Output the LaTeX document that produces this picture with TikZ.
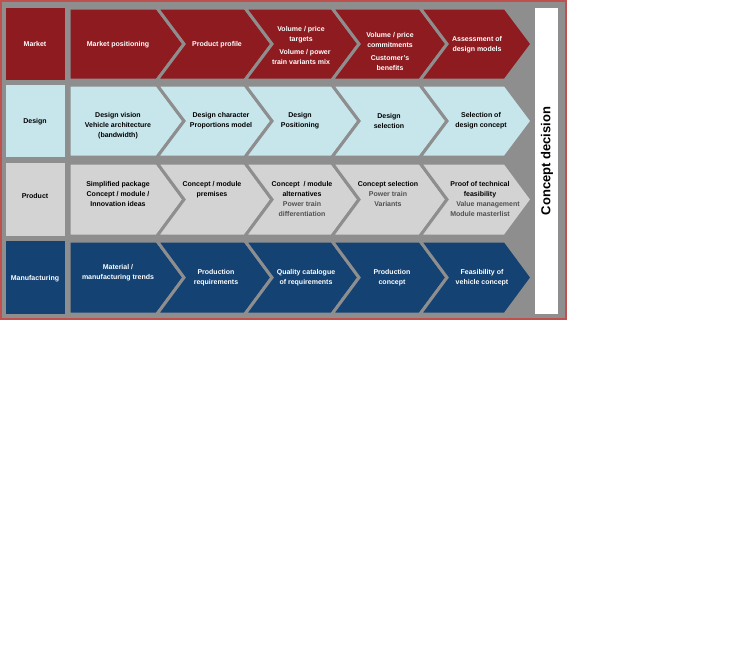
\documentclass[tikz,border=0pt]{standalone}
\usepackage{fontspec}
\setmainfont{Liberation Sans}
\begin{document}
\begin{tikzpicture}[x=1pt,y=-1pt,
 txt/.style={font=\bfseries\fontsize{7}{10}\selectfont,align=center,inner sep=0},
 lab/.style={txt},
 chev/.style={draw=gray!85!black!90,line width=3pt,line join=miter}]
\definecolor{mk}{HTML}{8E1B20}
\definecolor{ds}{HTML}{C6E6EC}
\definecolor{pr}{HTML}{D3D3D3}
\definecolor{mf}{HTML}{134273}
\definecolor{bg}{HTML}{8E8E8E}
\definecolor{fr}{HTML}{C0504D}
\definecolor{sub}{HTML}{505050}
\useasboundingbox (0,0) rectangle (730,664);
\fill[bg,draw=fr,line width=1.5pt] (1,1) rectangle (566,319);
\fill[white] (535,8) rectangle (558,314);
\node[rotate=90,font=\bfseries\fontsize{13}{15}\selectfont] (cd) at (547,161) {Concept decision};
\def\Ls{{69,157,245,332,420}}
\def\Rs{{157,245,332,420,505}}
\foreach \t/\b/\c [count=\r] in {8/80/mk,85/157/ds,163/236/pr,241/314/mf}{
  \fill[\c] (6,\t) rectangle (65,\b);
  \foreach \i in {0,...,4}{
    \pgfmathsetmacro\L{\Ls[\i]}\pgfmathsetmacro\R{\Rs[\i]}
    \pgfmathsetmacro\m{(\t+\b)/2}
    \ifnum\i=0
      \filldraw[\c,chev,draw=bg] (\L,\t)--(\R,\t)--(\R+27,\m)--(\R,\b)--(\L,\b)--cycle;
    \else
      \filldraw[\c,chev,draw=bg] (\L,\t)--(\R,\t)--(\R+27,\m)--(\R,\b)--(\L,\b)--(\L+27,\m)--cycle;
    \fi
  }
}
% row labels
\node[lab,white] (l1) at (35,44) {Market};
\node[lab] (l2) at (35,122) {Design};
\node[lab] (l3) at (35,196) {Product};
\node[lab,white] (l4) at (35,279) {Manufacturing};
% market
\begin{scope}[every node/.style={txt,white}]
\node (m1) at (118,45) {Market positioning};
\node (m2) at (217,45) {Product profile};
\node (m3) at (301,45) {Volume / price\\targets\\[3pt]\hspace*{8pt}Volume / power\\train variants mix};
\node (m4) at (390,51) {Volume / price\\commitments\\[3pt]Customer's\\benefits};
\node (m5) at (477,45) {Assessment of\\design models};
\end{scope}
% design
\begin{scope}[every node/.style={txt}]
\node (d1) at (118,126) {Design vision\\Vehicle architecture\\(bandwidth)};
\node (d2) at (221,121) {Design character\\Proportions model};
\node (d3) at (300,121) {Design\\Positioning};
\node (d4) at (389,121) {Design\\selection};
\node (d5) at (481,121) {Selection of\\design concept};
\end{scope}
% product
\begin{scope}[every node/.style={txt,anchor=north}]
\node (p1) at (118,181) {Simplified package\\Concept / module /\\Innovation ideas};
\node (p2) at (212,181) {Concept / module\\premises};
\node (p3) at (302,181) {Concept \ / module\\alternatives\\\textcolor{sub}{Power train}\\\textcolor{sub}{differentiation}};
\node (p4) at (388,181) {Concept selection\\\textcolor{sub}{Power train}\\\textcolor{sub}{Variants}};
\node (p5) at (480,181) {Proof of technical\\feasibility\\\textcolor{sub}{\hspace*{16pt}Value management}\\\textcolor{sub}{Module masterlist}};
\end{scope}
% manufacturing
\begin{scope}[every node/.style={txt,white}]
\node (f1) at (118,273) {Material /\\manufacturing trends};
\node (f2) at (216,278) {Production\\requirements};
\node (f3) at (306,278) {Quality catalogue\\of requirements};
\node (f4) at (392,278) {Production\\concept};
\node (f5) at (482,278) {Feasibility of\\vehicle concept};
\end{scope}
\end{tikzpicture}
\end{document}
